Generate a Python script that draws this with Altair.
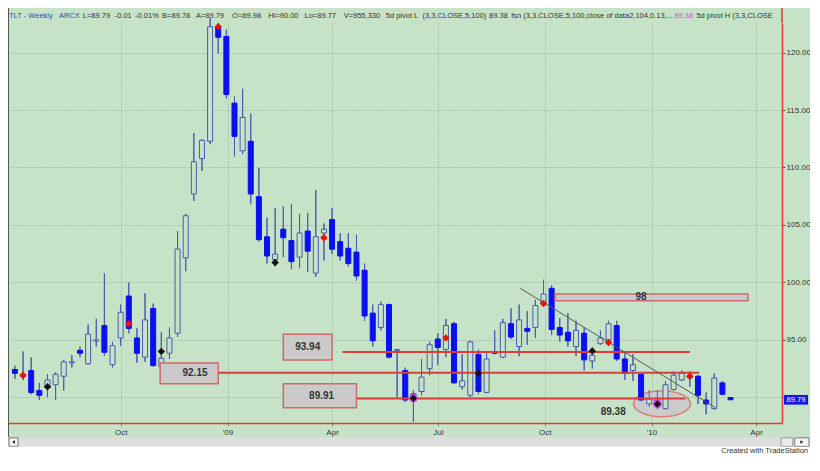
import math
import altair as alt
import pandas as pd

# ------------------------------------------------------------------ data
week_dates = pd.date_range("2008-07-02", periods=89, freq="7D").strftime("%Y-%m-%d").tolist()

opens = [92.43, 91.80, 92.34, 90.60, 90.85, 91.10, 91.84, 93.00, 94.09, 92.92,
         94.90, 96.25, 92.84, 95.17, 98.82, 95.17, 93.50, 97.74, 92.70, 93.84,
         95.58, 102.14, 107.70, 110.78, 112.28, 122.24, 121.40, 115.60, 111.45, 112.28,
         107.46, 103.97, 101.98, 104.63, 103.64, 102.20, 104.47, 100.81, 104.30, 105.47,
         103.55, 102.97, 102.64, 101.06, 97.33, 96.08, 98.07, 94.09, 92.34, 90.30,
         90.51, 92.50, 95.08, 94.17, 96.41, 90.93, 90.18, 93.75, 90.43, 93.92,
         93.50, 96.41, 94.42, 96.00, 96.08, 98.16, 99.49, 96.08, 95.66, 94.42,
         95.58, 93.17, 94.67, 95.00, 96.25, 93.34, 92.34, 92.01, 89.43, 89.77,
         89.02, 90.68, 91.51, 91.70, 91.84, 89.77, 89.02, 91.26, 89.98]
highs = [92.76, 94.00, 93.50, 91.26, 92.00, 92.20, 93.26, 93.67, 94.42, 96.33,
         96.83, 100.80, 94.83, 98.07, 99.98, 96.00, 99.07, 98.16, 95.66, 96.08,
         104.47, 105.96, 113.00, 112.44, 123.00, 122.57, 122.00, 116.18, 116.85, 114.70,
         109.95, 105.63, 106.46, 106.63, 106.80, 105.96, 106.05, 108.04, 105.13, 106.46,
         104.30, 104.30, 104.14, 101.64, 98.07, 98.32, 98.16, 94.20, 92.59, 90.60,
         93.34, 94.83, 95.58, 96.83, 96.58, 93.75, 94.92, 94.17, 94.00, 95.83,
         96.83, 97.74, 98.07, 97.50, 98.49, 100.23, 99.73, 96.91, 97.33, 96.66,
         96.08, 94.34, 95.83, 96.66, 96.66, 93.92, 93.75, 92.09, 90.60, 90.60,
         91.43, 92.26, 92.34, 92.26, 91.93, 90.43, 92.09, 91.43, 90.00]
lows = [91.60, 91.50, 90.27, 89.77, 90.00, 89.77, 90.60, 92.60, 93.50, 92.84,
        94.42, 93.60, 92.60, 94.50, 95.58, 93.00, 93.09, 92.70, 92.34, 93.34,
        95.25, 100.98, 107.10, 109.70, 112.03, 119.90, 116.00, 110.95, 111.20, 106.80,
        103.55, 101.64, 101.40, 102.20, 101.15, 101.23, 100.90, 100.48, 101.90, 102.47,
        101.90, 101.40, 100.15, 96.66, 94.42, 95.83, 93.40, 90.00, 89.60, 87.86,
        90.18, 91.93, 92.84, 93.50, 91.20, 90.68, 90.00, 90.27, 90.35, 93.75,
        93.40, 95.08, 93.59, 94.58, 95.17, 97.90, 95.42, 94.83, 94.42, 93.59,
        92.34, 92.50, 94.58, 94.58, 93.17, 91.51, 91.43, 89.70, 89.19, 88.94,
        88.94, 90.60, 91.43, 90.93, 89.43, 88.52, 88.94, 90.18, 89.77]
closes = [92.09, 91.93, 90.43, 90.18, 91.51, 92.00, 93.09, 93.10, 93.84, 95.50,
          95.00, 93.92, 94.50, 97.40, 96.00, 93.84, 96.74, 92.76, 93.40, 95.17,
          102.90, 105.80, 110.50, 112.36, 122.24, 121.33, 116.35, 112.70, 114.35, 107.70,
          103.72, 102.30, 102.47, 103.89, 101.81, 104.30, 102.72, 103.97, 104.63, 102.89,
          102.30, 101.64, 100.56, 97.08, 94.92, 98.07, 93.50, 94.17, 89.77, 89.90,
          91.76, 94.58, 94.34, 96.25, 91.26, 91.43, 94.83, 90.51, 93.34, 93.84,
          96.50, 95.25, 96.74, 95.75, 97.99, 98.99, 95.91, 95.42, 94.92, 95.83,
          93.26, 93.67, 95.17, 96.41, 93.34, 92.09, 92.84, 89.77, 89.85, 89.43,
          91.10, 91.93, 92.09, 91.90, 90.18, 89.43, 91.68, 90.27, 89.79]

pivot_high_weeks = [1, 14, 25, 38, 53, 65, 73, 83]
pivot_high_prices = [91.93, 96.41, 122.24, 103.89, 95.17, 98.16, 94.78, 91.84]
pivot_low_weeks = [4, 18, 32, 49, 57, 71, 79]
pivot_low_prices = [90.93, 94.00, 101.73, 89.93, 92.09, 94.03, 89.43]
ringed_low_weeks = [49, 79]

level_prices = [93.94, 92.15, 89.91]
level_starts = ["2009-04-10", "2008-12-24", "2009-04-22"]
level_ends = ["2010-02-03", "2010-02-11", "2010-01-30"]

box_labels = ["92.15", "93.94", "89.91", "98"]
box_starts = ["2008-11-04", "2009-02-18", "2009-02-18", "2009-10-10"]
box_ends = ["2008-12-24", "2009-04-01", "2009-04-22", "2010-03-25"]
box_tops = [93.00, 95.50, 91.18, 98.99]
box_bottoms = [91.18, 93.26, 89.10, 98.40]
box_label_dates = ["2008-12-04", "2009-03-11", "2009-03-23", "2009-12-23"]

trend_dates = ["2009-09-10", "2010-02-25"]
trend_prices = [99.49, 89.10]

note_text = ["89.38"]
note_dates = ["2009-11-29"]
note_prices = [88.77]

ellipse_dates = ["2010-01-10"]
ellipse_prices = [89.44]

last_price = [89.79]

header_texts = ["TLT - Weekly", "ARCX", "L=89.79", "-0.01", "-0.01%", "B=89.78", "A=89.79",
                "O=89.98", "Hi=90.00", "Lo=89.77", "V=955,330", "5d pivot L",
                "(3,3,CLOSE,5,100)", "89.38", "fsn (3,3,CLOSE,5,100,close of data2,104,0.13,...",
                "89.38", "5d pivot H (3,3,CLOSE"]

# ------------------------------------------------------------------ layout / style
W, H = 774, 400
BG = "#C7E3C7"
UP_EDGE = "#4B5CB0"
DOWN = "#0A10F0"
RED = "#E03A3A"
GRID = "#8FAA8F"
TXT = "#333333"
FONT = "Liberation Sans"
HFS = 7.5


def rx(ref_x):
    return (ref_x - 2) * W / 791


def ry(ref_y):
    return (ref_y - 18) * H / 419


def text_width(s, fs):
    w = 0.0
    for ch in s:
        if ch.isdigit():
            w += 0.556
        elif ch in "il.,:;'!|":
            w += 0.25
        elif ch in " ft":
            w += 0.28
        elif ch in "()-r":
            w += 0.333
        elif ch == "%":
            w += 0.889
        elif ch.isupper():
            w += 0.68
        else:
            w += 0.53
    return w * fs


header_ref_x = [2, 53, 77, 110, 130, 157, 193, 230, 267, 304, 344, 387, 412, 476, 493, 682, 700]
header_colors = ["#2F4FB0", "#2F4FB0"] + [TXT] * 13 + ["#E040E0", TXT]
header_pos = []
prev_end = -10.0
for t, hx in zip(header_texts, header_ref_x):
    x0 = max(rx(hx) + 1, prev_end + 3.5)
    header_pos.append(x0)
    prev_end = x0 + text_width(t, HFS)

candles = pd.DataFrame({"date": week_dates, "open": opens, "high": highs,
                        "low": lows, "close": closes})

x_dom = [alt.DateTime(year=2008, month=6, date=30, hours=8, utc=True),
         alt.DateTime(year=2010, month=4, date=19, utc=True)]
xs = alt.Scale(type="utc", domain=x_dom, nice=False)
ys = alt.Scale(domain=[87.77, 122.57], nice=False, zero=False)

quarters = [alt.DateTime(year=y, month=m, date=1, utc=True)
            for y, m in [(2008, 10), (2009, 1), (2009, 4), (2009, 7), (2009, 10), (2010, 1), (2010, 4)]]

xaxis = alt.Axis(values=quarters, title=None,
                 labelExpr="utcFormat(datum.value,'%m')=='01' ? \"'\" + utcFormat(datum.value,'%y') : utcFormat(datum.value,'%b')",
                 grid=True, gridDash=[1, 2], gridColor=GRID, gridWidth=1,
                 domainColor=RED, domainWidth=1.5, tickColor="#888888", tickSize=3,
                 labelFontSize=8, labelColor=TXT, labelPadding=2, labelFont=FONT)
# the 90.00 label sits behind the last-price tag, so only its grid line is drawn
yaxis = alt.Axis(orient="right", values=[90, 95, 100, 105, 110, 115, 120], title=None,
                 labelExpr="datum.value == 90 ? '' : format(datum.value, '.2f')",
                 grid=True, gridDash=[1, 2], gridColor=GRID, gridWidth=1,
                 domainColor=RED, domainWidth=1.5, tickColor="#555555", tickSize=3,
                 labelFontSize=8, labelColor=TXT, labelPadding=1, labelFont=FONT)


def X(field):
    return alt.X(field, scale=xs, axis=xaxis)


def Y(field):
    return alt.Y(field, scale=ys, axis=yaxis)


one = alt.Data(values=[{}])
layers = []

# wicks first (also carry the axes)
wick_layer = alt.Chart(candles).mark_rule(color=UP_EDGE, strokeWidth=1).encode(
    x=X("date:T"), y=Y("low:Q"), y2="high:Q")
layers.append(wick_layer)

# ellipse around the low
ratio = 25.8 / 56.8
pts = []
for k in range(48):
    a = 2 * math.pi * k / 48
    pts.append(f"{math.cos(a):.4f} {ratio * math.sin(a):.4f}")
ellipse_path = "M " + " L ".join(pts) + " Z"
ell_df = pd.DataFrame({"date": ellipse_dates, "price": ellipse_prices})
layers.append(alt.Chart(ell_df).mark_point(shape=ellipse_path, size=56.8 ** 2, filled=True,
                                           fill="#CBCBCB", stroke="#E07A7A", strokeWidth=1.5,
                                           opacity=1).encode(
    x=X("date:T"), y=Y("price:Q")))

# wicks again above the ellipse, then bodies
layers.append(wick_layer)
layers.append(alt.Chart(candles).mark_bar(size=5, strokeWidth=1).encode(
    x=X("date:T"), y=Y("open:Q"), y2="close:Q",
    fill=alt.condition("datum.close < datum.open", alt.value(DOWN), alt.value(BG)),
    stroke=alt.condition("datum.close < datum.open", alt.value(DOWN), alt.value(UP_EDGE))))

# support / resistance lines
lv_df = pd.DataFrame({"start": level_starts, "end": level_ends, "price": level_prices})
layers.append(alt.Chart(lv_df).mark_rule(color=RED, strokeWidth=2).encode(
    x=X("start:T"), x2="end:T", y=Y("price:Q")))

# label boxes
bx_df = pd.DataFrame({"label": box_labels, "start": box_starts, "end": box_ends,
                      "top": box_tops, "bottom": box_bottoms, "tdate": box_label_dates})
layers.append(alt.Chart(bx_df).mark_rect(fill="#CACACA", stroke="#D06A6A", strokeWidth=1.5).encode(
    x=X("start:T"), x2="end:T", y=Y("top:Q"), y2="bottom:Q"))
layers.append(alt.Chart(bx_df).transform_calculate(mid="(datum.top + datum.bottom) / 2").mark_text(
    fontSize=10, fontWeight="bold", font=FONT, color=TXT, baseline="middle").encode(
    x=X("tdate:T"), y=Y("mid:Q"), text="label:N"))

# trend line
tr_df = pd.DataFrame({"date": trend_dates, "price": trend_prices})
layers.append(alt.Chart(tr_df).mark_line(color="#4F5F4F", strokeWidth=1).encode(
    x=X("date:T"), y=Y("price:Q")))

# 89.38 note
nt_df = pd.DataFrame({"date": note_dates, "price": note_prices, "text": note_text})
layers.append(alt.Chart(nt_df).mark_text(fontSize=10, fontWeight="bold", font=FONT, color=TXT,
                                         baseline="middle").encode(
    x=X("date:T"), y=Y("price:Q"), text="text:N"))

# pivot markers
ring_df = pd.DataFrame({"date": [week_dates[i] for i in ringed_low_weeks],
                        "price": [pivot_low_prices[pivot_low_weeks.index(i)] for i in ringed_low_weeks]})
layers.append(alt.Chart(ring_df).mark_point(shape="circle", size=80, filled=True, color="#E050E0",
                                            opacity=1).encode(x=X("date:T"), y=Y("price:Q")))
ph_df = pd.DataFrame({"date": [week_dates[i] for i in pivot_high_weeks], "price": pivot_high_prices})
layers.append(alt.Chart(ph_df).mark_point(shape="diamond", size=55, filled=True, color="#E81010",
                                          opacity=1).encode(x=X("date:T"), y=Y("price:Q")))
pl_df = pd.DataFrame({"date": [week_dates[i] for i in pivot_low_weeks], "price": pivot_low_prices})
layers.append(alt.Chart(pl_df).mark_point(shape="diamond", size=55, filled=True, color="#111111",
                                          opacity=1).encode(x=X("date:T"), y=Y("price:Q")))

# last price tag on the right axis
lp_df = pd.DataFrame({"price": last_price, "text": [f"{v:.2f}" for v in last_price]})
layers.append(alt.Chart(lp_df).transform_calculate(lo="datum.price - 0.42", hi="datum.price + 0.42").mark_rect(
    fill="#1018E8").encode(
    x=alt.value(W + 2), x2=alt.value(W + 26), y=Y("lo:Q"), y2="hi:Q"))
layers.append(alt.Chart(lp_df).mark_text(fontSize=7.5, font=FONT, color="white", baseline="middle").encode(
    x=alt.value(W + 14), y=Y("price:Q"), text="text:N"))

# window chrome: borders, header, scrollbar, footer
layers.append(alt.Chart(one).mark_rule(color=RED, strokeWidth=1.5).encode(
    x=alt.value(W), y=alt.value(-15), y2=alt.value(0)))
layers.append(alt.Chart(one).mark_rule(color="#555555", strokeWidth=1).encode(
    x=alt.value(0.5), y=alt.value(-15), y2=alt.value(ry(452))))
for t, hx, c in zip(header_texts, header_pos, header_colors):
    layers.append(alt.Chart(one).mark_text(text=t, fontSize=HFS, font=FONT, color=c, align="left",
                                           baseline="middle").encode(
        x=alt.value(hx), y=alt.value(-7)))
layers.append(alt.Chart(one).mark_rect(fill="#DEDEDE").encode(
    x=alt.value(0), x2=alt.value(W + 28), y=alt.value(ry(452)), y2=alt.value(ry(462))))
layers.append(alt.Chart(one).mark_rect(fill="#F4F4F4", stroke="#777777", strokeWidth=1).encode(
    x=alt.value(1), x2=alt.value(10), y=alt.value(ry(452) + 0.5), y2=alt.value(ry(462) - 0.5)))
layers.append(alt.Chart(one).mark_rect(fill="#EBEBEB", stroke="#999999", strokeWidth=1).encode(
    x=alt.value(rx(792)), x2=alt.value(rx(804)), y=alt.value(ry(452) + 0.5), y2=alt.value(ry(462) - 0.5)))
layers.append(alt.Chart(one).mark_rect(fill="#F4F4F4", stroke="#777777", strokeWidth=1).encode(
    x=alt.value(rx(806)), x2=alt.value(W + 27), y=alt.value(ry(452) + 0.5), y2=alt.value(ry(462) - 0.5)))
layers.append(alt.Chart(one).mark_point(shape="triangle-left", size=12, filled=True, color="#222222",
                                        opacity=1).encode(
    x=alt.value(5.5), y=alt.value(ry(457))))
layers.append(alt.Chart(one).mark_point(shape="triangle-right", size=12, filled=True, color="#222222",
                                        opacity=1).encode(
    x=alt.value((rx(806) + W + 27) / 2), y=alt.value(ry(457))))
layers.append(alt.Chart(one).mark_rect(fill="white").encode(
    x=alt.value(0), x2=alt.value(W + 28), y=alt.value(ry(462)), y2=alt.value(H + 40)))
layers.append(alt.Chart(one).mark_text(text="Created with TradeStation", fontSize=7.5, font=FONT,
                                       color=TXT, align="right", baseline="middle").encode(
    x=alt.value(W + 26), y=alt.value(ry(466.5))))

chart = alt.layer(*layers).properties(
    width=W, height=H,
    padding={"left": 0, "top": 15, "right": 28, "bottom": 35},
    autosize=alt.AutoSizeParams(type="none"),
    background=BG,
).configure_view(stroke=None)

chart.save("out.html", embed_options={"renderer": "svg", "actions": False})
